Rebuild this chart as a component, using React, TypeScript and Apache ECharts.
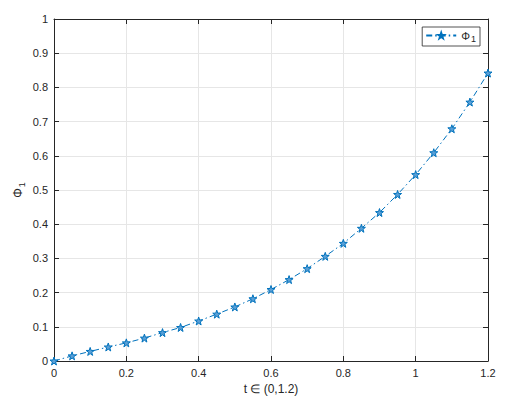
import React, { useEffect, useRef } from "react";
import * as echarts from "echarts";

const tValues = [0, 0.05, 0.1, 0.15, 0.2, 0.25, 0.3, 0.35, 0.4, 0.45, 0.5, 0.55, 0.6, 0.65, 0.7, 0.75, 0.8, 0.85, 0.9, 0.95, 1.0, 1.05, 1.1, 1.15, 1.2];
const phi1Values = [0, 0.015, 0.028, 0.041, 0.053, 0.067, 0.083, 0.098, 0.117, 0.137, 0.158, 0.182, 0.209, 0.238, 0.270, 0.306, 0.344, 0.388, 0.434, 0.487, 0.545, 0.609, 0.679, 0.757, 0.842];
const seriesName = "Φ1";
const xAxisTitle = "t ∈ (0,1.2)";

function starPath(): string {
  const pts: string[] = [];
  for (let i = 0; i < 10; i++) {
    const r = i % 2 === 0 ? 50 : 20;
    const a = -Math.PI / 2 + (i * Math.PI) / 5;
    const x = 50 + r * Math.cos(a);
    const y = 50 + r * Math.sin(a);
    pts.push((i === 0 ? "M" : "L") + x.toFixed(2) + " " + y.toFixed(2));
  }
  return "path://" + pts.join(" ") + " Z";
}

const fmt = (v: number) => String(Math.round(v * 10) / 10);

export default function App() {
  const ref = useRef<HTMLDivElement>(null);
  useEffect(() => {
    if (!ref.current) return;
    const chart = echarts.init(ref.current, undefined, { renderer: "svg" });
    const axisColor = "#262626";
    const font = "Liberation Sans, Arial, sans-serif";
    const star = starPath();
    chart.setOption({
      animation: false,
      backgroundColor: "#ffffff",
      textStyle: { fontFamily: font },
      grid: { left: 54, right: 44, top: 19, bottom: 43, containLabel: false },
      legend: {
        right: 52,
        top: 27,
        data: [seriesName],
        borderColor: axisColor,
        borderWidth: 0.8,
        padding: [3, 4, 3, 3],
        itemWidth: 30,
        itemHeight: 7,
        backgroundColor: "#ffffff",
        formatter: () => "{a|Φ}{b|1}",
        textStyle: {
          fontFamily: font,
          color: axisColor,
          rich: {
            a: { fontSize: 11, fontFamily: font, color: axisColor },
            b: { fontSize: 9, fontFamily: font, color: axisColor, padding: [6, 0, 0, 1] },
          },
        },
      },
      xAxis: [
        {
          type: "value",
          min: 0,
          max: 1.2,
          interval: 0.2,
          position: "bottom",
          name: xAxisTitle,
          nameLocation: "middle",
          nameGap: 22,
          nameMoveOverlap: false,
          nameTextStyle: { fontSize: 12, color: axisColor, fontFamily: font },
          axisLine: { show: true, onZero: false, lineStyle: { color: axisColor, width: 1 } },
          axisTick: { show: true, inside: true, length: 5, lineStyle: { color: axisColor } },
          axisLabel: { color: axisColor, fontSize: 11, margin: 6, formatter: fmt },
          splitLine: { show: true, lineStyle: { color: "#e6e6e6", width: 1 } },
        },
        {
          type: "value",
          min: 0,
          max: 1.2,
          interval: 0.2,
          position: "top",
          axisLine: { show: true, onZero: false, lineStyle: { color: axisColor, width: 1 } },
          axisTick: { show: true, inside: true, length: 5, lineStyle: { color: axisColor } },
          axisLabel: { show: false },
          splitLine: { show: false },
        },
      ],
      yAxis: [
        {
          type: "value",
          min: 0,
          max: 1,
          interval: 0.1,
          position: "left",
          name: "{a|Φ}{b|1}",
          nameLocation: "middle",
          nameGap: 28,
          nameMoveOverlap: false,
          nameRotate: 90,
          nameTextStyle: {
            color: axisColor,
            rich: {
              a: { fontSize: 12, fontFamily: font, color: axisColor },
              b: { fontSize: 9, fontFamily: font, color: axisColor, padding: [8, 0, 0, 1] },
            },
          },
          axisLine: { show: true, onZero: false, lineStyle: { color: axisColor, width: 1 } },
          axisTick: { show: true, inside: true, length: 5, lineStyle: { color: axisColor } },
          axisLabel: { color: axisColor, fontSize: 11, margin: 6, formatter: fmt },
          splitLine: { show: true, lineStyle: { color: "#e6e6e6", width: 1 } },
        },
        {
          type: "value",
          min: 0,
          max: 1,
          interval: 0.1,
          position: "right",
          axisLine: { show: true, onZero: false, lineStyle: { color: axisColor, width: 1 } },
          axisTick: { show: true, inside: true, length: 5, lineStyle: { color: axisColor } },
          axisLabel: { show: false },
          splitLine: { show: false },
        },
      ],
      series: [
        {
          name: seriesName,
          type: "line",
          xAxisIndex: 0,
          yAxisIndex: 0,
          data: tValues.map((t, i) => [t, phi1Values[i]]),
          symbol: star,
          symbolSize: 8,
          showAllSymbol: true,
          lineStyle: { color: "#0072BD", width: 1, type: [6, 3, 1.5, 3] },
          itemStyle: { color: "#5a9fd6", borderColor: "#0072BD", borderWidth: 1 },
          clip: false,
          z: 5,
        },
      ],
    });
    return () => chart.dispose();
  }, []);
  return <div ref={ref} style={{ width: 532, height: 404, position: "absolute", left: 0, top: 0 }} />;
}
